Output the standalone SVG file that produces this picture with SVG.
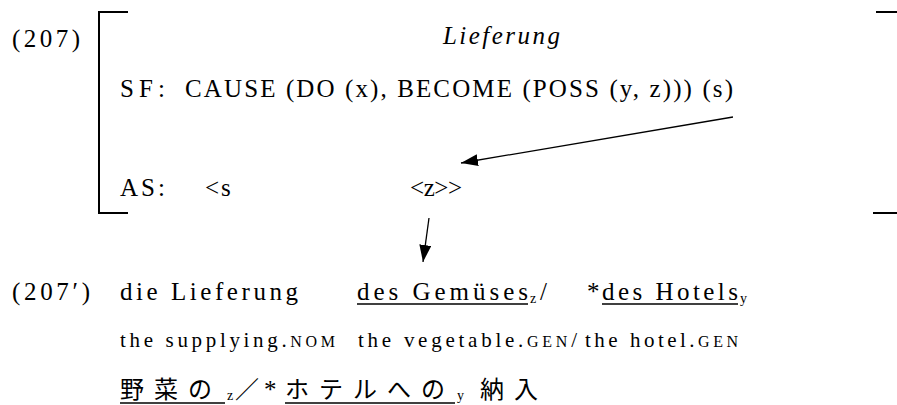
<svg xmlns="http://www.w3.org/2000/svg" width="897" height="405" viewBox="0 0 897 405">
<style>
text{font-family:"Liberation Serif","Times New Roman","Noto Sans CJK JP",serif;fill:#000}
.m{font-size:25px}
.g{font-size:21px}
.sc{font-size:16px}
.sub{font-size:14px}
.jp{font-family:"Liberation Serif","Noto Sans CJK JP",serif;font-size:24px;letter-spacing:10px}
.br{fill:none;stroke:#000;stroke-width:2}
.ul{stroke:#000;stroke-width:1.5}
.ar{stroke:#000;stroke-width:1.3;fill:none}
</style>
<defs>
<marker id="ah" markerUnits="userSpaceOnUse" markerWidth="18" markerHeight="13" refX="17" refY="6" orient="auto">
<path d="M0,0 L17,6 L0,12 z" fill="#000"/>
</marker>
</defs>
<g id="bracket">
<path class="br" d="M128,12 H99 V213 H128"/>
<path class="br" d="M876,12 H897 M873,213 H897"/>
</g>
<g id="ex207">
<text class="m" x="12" y="47" textLength="68" lengthAdjust="spacing">(207)</text>
<text class="m" x="443" y="44" font-style="italic" textLength="117" lengthAdjust="spacing">Lieferung</text>
</g>
<g id="sf">
<text class="m" x="120" y="97" textLength="45" lengthAdjust="spacing">SF:</text>
<text class="m" x="185" y="97" textLength="548" lengthAdjust="spacing">CAUSE (DO (x), BECOME (POSS (y, z))) (s)</text>
</g>
<g id="as">
<text class="m" x="120" y="196" textLength="45" lengthAdjust="spacing">AS:</text>
<text class="m" x="205" y="196" letter-spacing="2">&lt;s</text>
<text class="m" x="410" y="196" textLength="52" lengthAdjust="spacing">&lt;z&gt;&gt;</text>
</g>
<g id="connectors">
<line class="ar" x1="733" y1="117" x2="461" y2="163" marker-end="url(#ah)"/>
<line class="ar" x1="429" y1="218" x2="423" y2="262" marker-end="url(#ah)"/>
</g>
<g id="ex207p">
<text class="m" x="12" y="300" textLength="78" lengthAdjust="spacing">(207′)</text>
<text class="m" x="120" y="300" textLength="178" lengthAdjust="spacing">die Lieferung</text>
<text class="m" x="357" y="300" textLength="171" lengthAdjust="spacing">des Gemüses</text>
<line class="ul" x1="357" y1="304" x2="528" y2="304"/>
<text class="sub" x="530" y="303">z</text>
<text class="m" x="540" y="300">/</text>
<text class="m" x="587" y="300">*</text>
<text class="m" x="602" y="300" textLength="136" lengthAdjust="spacing">des Hotels</text>
<line class="ul" x1="602" y1="304" x2="738" y2="304"/>
<text class="sub" x="740" y="303">y</text>
</g>
<g id="gloss">
<text class="g" x="120" y="347" textLength="215" lengthAdjust="spacing">the supplying.<tspan class="sc">NOM</tspan></text>
<text class="g" x="358" y="347" textLength="219" lengthAdjust="spacing">the vegetable.<tspan class="sc">GEN</tspan>/</text>
<text class="g" x="585" y="347" textLength="153" lengthAdjust="spacing">the hotel.<tspan class="sc">GEN</tspan></text>
</g>
<g id="japanese">
<text class="jp" x="120" y="398">野菜の</text>
<line class="ul" x1="120" y1="403" x2="225" y2="403"/>
<text class="sub" x="227" y="400">z</text>
<text class="jp" x="235" y="398" style="letter-spacing:0">／</text>
<text class="m" x="264" y="398">*</text>
<text class="jp" x="285" y="398">ホテルへの</text>
<line class="ul" x1="285" y1="403" x2="455" y2="403"/>
<text class="sub" x="457" y="400">y</text>
<text class="jp" x="480" y="398">納入</text>
</g>
</svg>
